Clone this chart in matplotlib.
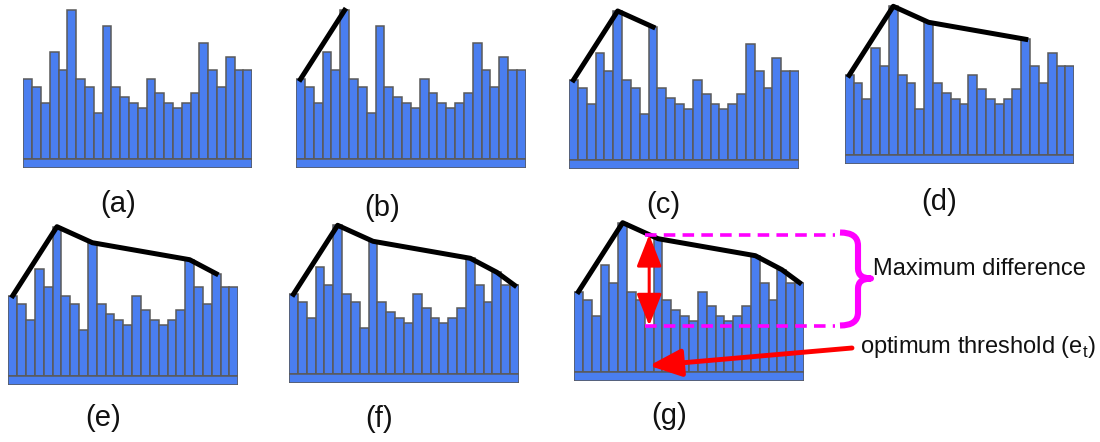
import numpy as np
import matplotlib
matplotlib.use("Agg")
import matplotlib.pyplot as plt
from matplotlib.path import Path
from matplotlib.patches import PathPatch, FancyArrowPatch

plt.rcParams['font.family'] = ['Liberation Sans', 'DejaVu Sans']
plt.rcParams['mathtext.fontset'] = 'custom'
plt.rcParams['mathtext.rm'] = 'Liberation Sans'

# histogram bin counts
counts = [80, 72, 56, 107, 89, 149, 80, 72, 46, 133, 72, 62, 56,
          51, 80, 66, 56, 51, 56, 66, 116, 89, 72, 102, 89, 89]
panel_labels = ['(a)', '(b)', '(c)', '(d)', '(e)', '(f)', '(g)']
# bins joined by the hull line at each step of the construction
hull_steps = [[], [0, 5], [0, 5, 9], [0, 5, 9, 20], [0, 5, 9, 20, 23],
              [0, 5, 9, 20, 23, 25], [0, 5, 9, 20, 23, 25]]
threshold_bin = 8
diff_label = 'Maximum difference'
threshold_label = r'optimum threshold (e$_{\mathregular{t}}$)'

BLUE = '#4a7ef0'
EDGE = '#5a5a5a'
MAGENTA = '#ff00ff'
RED = '#ff0000'

W, H = 1100, 442
# panel placement in pixels: left, right, baseline (from top)
panel_px = [
    (23.3, 252.3, 159.3),
    (296.0, 525.7, 159.3),
    (569.0, 799.0, 160.0),
    (844.7, 1074.3, 155.3),
    (8.3, 238.3, 375.7),
    (289.0, 519.0, 374.3),
    (574.0, 804.0, 371.7),
]
label_px = [(118.3, 204), (381.8, 208), (663.8, 205), (939.5, 201.7),
            (103.3, 418.3), (379, 419), (668.7, 416)]
BASE_H = 9
TOP = 152

fig = plt.figure(figsize=(W / 100, H / 100), dpi=100)

# full-figure layer in pixel units for labels and callouts
overlay = fig.add_axes([0, 0, 1, 1])
overlay.set_xlim(0, W)
overlay.set_ylim(H, 0)
overlay.axis('off')

x = np.arange(len(counts))
y = np.array(counts, dtype=float)
n = len(counts)

axes = []
for (left, right, base), hull in zip(panel_px, hull_steps):
    ax = fig.add_axes([left / W, (H - (base + BASE_H)) / H,
                       (right - left) / W, (BASE_H + TOP) / H])
    ax.set_xlim(-0.5, n - 0.5)
    ax.set_ylim(-BASE_H, TOP)
    ax.axis('off')
    ax.bar(x, y, width=1.0, color=BLUE, edgecolor=EDGE, linewidth=1.1, zorder=2)
    ax.bar((n - 1) / 2, BASE_H, bottom=-BASE_H, width=n, color=BLUE,
           edgecolor=EDGE, linewidth=1.1, zorder=3)
    if hull:
        ax.plot(x[hull], y[hull], color='black', lw=3.6,
                solid_capstyle='projecting', solid_joinstyle='round',
                clip_on=False, zorder=4)
    axes.append(ax)

for (lx, ly), lab in zip(label_px, panel_labels):
    overlay.text(lx, ly, lab, ha='center', va='center', fontsize=21, color='#111111')

# threshold search on the last panel
ax_g = axes[-1]
hull = hull_steps[-1]
hull_at_t = np.interp(threshold_bin, x[hull], y[hull])
low_at_t = y[threshold_bin]
dash_end = 29.0
for level in (hull_at_t, low_at_t):
    ax_g.plot([threshold_bin - 0.5, dash_end], [level, level], color=MAGENTA,
              lw=2.6, linestyle=(0, (3.2, 2.0)), dash_capstyle='butt',
              clip_on=False, zorder=5)

ax_g.add_patch(FancyArrowPatch((threshold_bin, hull_at_t), (threshold_bin, low_at_t),
                               arrowstyle='<|-|>,head_length=1.4,head_width=0.55',
                               mutation_scale=14, color=RED, lw=2.2,
                               shrinkA=0, shrinkB=0, clip_on=False, zorder=6))

ax_g.annotate('', xy=(threshold_bin, 6), xycoords='data',
              xytext=(852, 348), textcoords=overlay.transData,
              arrowprops=dict(arrowstyle='-|>,head_length=1.4,head_width=0.6',
                              mutation_scale=14, color=RED, lw=3.5,
                              shrinkA=0, shrinkB=0), zorder=6)

# curly brace marking the gap
bx0, bx1, btip = 840, 858, 871
by0, bmid, by1 = 232.5, 278.5, 325.5
verts = [(bx0, by0), (bx1, by0), (bx1, by0 + 13),
         (bx1, bmid - 10),
         (bx1, bmid), (btip, bmid),
         (bx1, bmid), (bx1, bmid + 10),
         (bx1, by1 - 13),
         (bx1, by1), (bx0, by1)]
codes = [Path.MOVETO, Path.CURVE3, Path.CURVE3,
         Path.LINETO,
         Path.CURVE3, Path.CURVE3,
         Path.CURVE3, Path.CURVE3,
         Path.LINETO,
         Path.CURVE3, Path.CURVE3]
overlay.add_patch(PathPatch(Path(verts, codes), facecolor='none', edgecolor=MAGENTA,
                            lw=4.4, capstyle='butt', joinstyle='round'))

overlay.text(873, 275, diff_label, ha='left', va='baseline', fontsize=17, color='#111111')
overlay.text(860, 353, threshold_label, ha='left', va='baseline', fontsize=17, color='#111111')

fig.savefig('out.png', dpi=100)
